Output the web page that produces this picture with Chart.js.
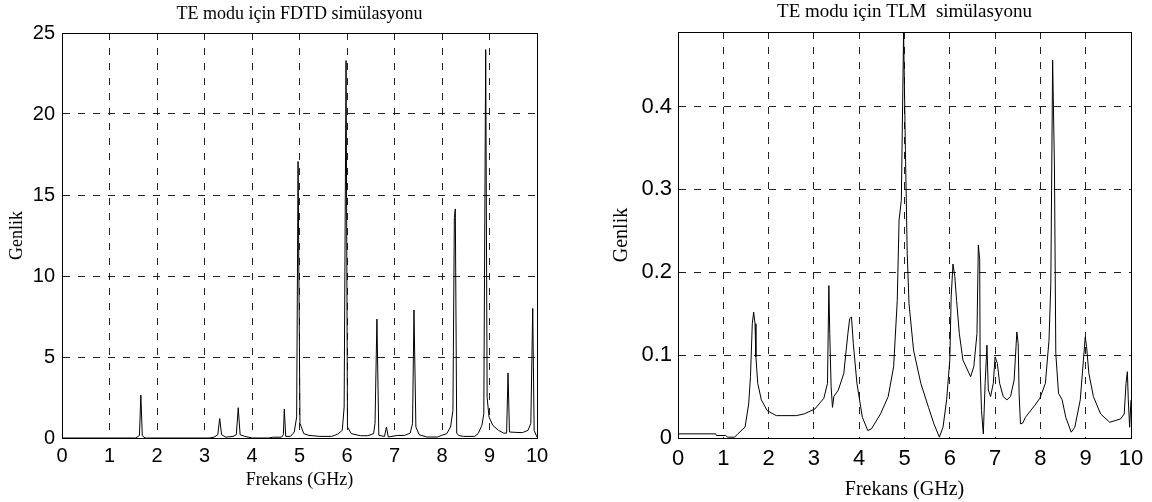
<!DOCTYPE html>
<html>
<head>
<meta charset="utf-8">
<script src="https://cdn.jsdelivr.net/npm/chart.js@4.4.1/dist/chart.umd.min.js"></script>
<style>
    html, body { margin: 0; padding: 0; background: #fff; overflow: hidden; }
    #sol { position: absolute; left: 0; top: 0; width: 576px; height: 502px; }
    #sag { position: absolute; left: 576px; top: 0; width: 576px; height: 502px; }
</style>
</head>
<body>
<div id="sol"><canvas id="grafikFDTD"></canvas></div>
<div id="sag"><canvas id="grafikTLM"></canvas></div>
<script>
// FDTD spektrumu (GHz, genlik)
const fdtdFrekans = [
    0, 1.55, 1.63, 1.66, 1.69, 1.75, 3.1, 3.2, 3.28, 3.32, 3.36, 3.45, 3.6, 3.67, 3.71, 3.75, 3.85, 4.0,
    4.35, 4.45, 4.62, 4.66, 4.68, 4.71, 4.81, 4.89, 4.94, 4.97, 5.01, 5.09, 5.2, 5.43, 5.67, 5.74,
    5.82, 5.9, 5.94, 5.98, 6.01, 6.09, 6.28, 6.44, 6.56, 6.59, 6.63, 6.67, 6.79, 6.83, 6.87, 7.06,
    7.21, 7.33, 7.38, 7.41, 7.45, 7.52, 7.68, 7.91, 7.99, 8.1, 8.18, 8.23, 8.26, 8.28, 8.31, 8.35,
    8.45, 8.69, 8.76, 8.84, 8.88, 8.92, 8.95, 8.99, 9.07, 9.19, 9.3, 9.36, 9.39, 9.42, 9.54, 9.69,
    9.81, 9.87, 9.91, 9.94, 10
];
const fdtdGenlik = [
    0, 0, 0.15, 2.65, 0.15, 0, 0, 0.05, 0.2, 1.2, 0.2, 0.05, 0.1, 0.2, 1.87, 0.2, 0.1, 0,
    0, 0.05, 0.05, 0.2, 1.79, 0.1, 0.1, 0.37, 1.3, 17.07, 0.9, 0.27, 0.16, 0.1, 0.1, 0.16,
    0.27, 0.47, 1.9, 23.3, 0.68, 0.27, 0.14, 0.14, 0.27, 0.9, 7.34, 0.16, 0.1, 0.68, 0.06, 0.16,
    0.16, 0.3, 0.9, 7.9, 0.68, 0.2, 0.06, 0.06, 0.16, 0.27, 0.68, 1.7, 13.6, 14.14, 0.3, 0.16,
    0.1, 0.1, 0.27, 0.78, 1.5, 23.98, 2.5, 1.3, 0.78, 0.47, 0.3, 0.3, 4.02, 0.37, 0.35, 0.33,
    0.47, 0.9, 8.0, 0.47, 0.05
];

// TLM spektrumu (GHz, genlik)
const tlmFrekans = [
    0, 0.83, 0.85, 1.05, 1.1, 1.25, 1.32, 1.48, 1.56, 1.6, 1.64, 1.67, 1.7, 1.72, 1.76, 1.84, 1.97,
    2.17, 2.61, 2.78, 3.02, 3.22, 3.3, 3.33, 3.35, 3.38, 3.41, 3.44, 3.54, 3.66, 3.75, 3.79, 3.83,
    3.87, 3.95, 4.07, 4.19, 4.27, 4.47, 4.64, 4.76, 4.84, 4.88, 4.93, 4.98, 5.02, 5.06, 5.1, 5.2,
    5.36, 5.53, 5.65, 5.77, 5.85, 5.93, 6.0, 6.03, 6.07, 6.11, 6.15, 6.21, 6.29, 6.46, 6.53, 6.6,
    6.63, 6.66, 6.67, 6.7, 6.74, 6.78, 6.82, 6.85, 6.9, 6.96, 7.0, 7.05, 7.1, 7.18, 7.26, 7.34,
    7.42, 7.48, 7.51, 7.53, 7.56, 7.61, 7.67, 7.87, 7.99, 8.11, 8.19, 8.23, 8.27, 8.31, 8.34, 8.4,
    8.48, 8.56, 8.68, 8.76, 8.88, 8.95, 8.99, 9.02, 9.07, 9.17, 9.33, 9.53, 9.65, 9.77, 9.85, 9.89,
    9.92, 9.94, 9.97, 10
];
const tlmGenlik = [
    0.005, 0.005, 0.003, 0.003, 0.001, 0.001, 0.005, 0.013, 0.041, 0.074, 0.138, 0.152, 0.138, 0.098, 0.066, 0.046, 0.033,
    0.027, 0.027, 0.029, 0.035, 0.048, 0.066, 0.184, 0.126, 0.062, 0.037, 0.05, 0.058, 0.078, 0.126, 0.144, 0.146,
    0.114, 0.066, 0.025, 0.009, 0.011, 0.029, 0.05, 0.086, 0.166, 0.263, 0.287, 0.49, 0.348, 0.223, 0.162, 0.106,
    0.066, 0.037, 0.017, 0.001, 0.013, 0.046, 0.094, 0.17, 0.21, 0.195, 0.166, 0.126, 0.094, 0.074, 0.086, 0.126,
    0.233, 0.215, 0.086, 0.033, 0.005, 0.066, 0.112, 0.058, 0.05, 0.066, 0.098, 0.09, 0.066, 0.05, 0.046, 0.05,
    0.07, 0.128, 0.114, 0.054, 0.017, 0.018, 0.025, 0.039, 0.048, 0.066, 0.118, 0.186, 0.456, 0.327, 0.102, 0.054,
    0.046, 0.025, 0.007, 0.013, 0.046, 0.094, 0.122, 0.11, 0.078, 0.05, 0.029, 0.019, 0.021, 0.023, 0.029, 0.066,
    0.08, 0.046, 0.013, 0.046
];

const frekansTicks = [0, 1, 2, 3, 4, 5, 6, 7, 8, 9, 10];
const fdtdTicks = [0, 5, 10, 15, 20, 25];
const tlmTicks = [0, 0.1, 0.2, 0.3, 0.4];

const SERIF = "'Liberation Serif', 'Times New Roman', serif";
const SANS = "'Liberation Sans', Arial, sans-serif";
const izgara = { color: '#222', lineWidth: 1, drawTicks: false };
const cerceve = { display: true, color: '#000', width: 1 };
// border.dash = izgara cizgilerinin kesik deseni (v4)
const kesikCerceve = { ...cerceve, dash: [7, 8] };

function noktalar(xs, ys) {
    return xs.map((x, i) => ({ x: x, y: ys[i] }));
}

// kutu: eksen genislikleri / yazi konumlari her grafik icin ayri
function grafikCiz(canvasId, xs, ys, yMax, yTicks, kutu) {
    return new Chart(document.getElementById(canvasId), {
        type: 'line',
        data: {
            datasets: [{
                data: noktalar(xs, ys),
                borderColor: '#000',
                borderWidth: 1,
                pointRadius: 0,
                tension: 0
            }]
        },
        options: {
            responsive: true,
            maintainAspectRatio: false,
            animation: false,
            layout: { padding: 0 },
            plugins: {
                legend: { display: false },
                tooltip: { enabled: false }
            },
            scales: {
                x: {
                    type: 'linear',
                    min: 0,
                    max: 10,
                    afterBuildTicks: s => { s.ticks = frekansTicks.map(v => ({ value: v })); },
                    ticks: { color: '#000', padding: kutu.xTickPad, font: { family: SANS, size: kutu.tickFont } },
                    grid: izgara,
                    border: kesikCerceve,
                    title: {
                        display: true, text: 'Frekans (GHz)', color: '#000',
                        font: { family: SERIF, size: kutu.labelFont },
                        padding: { top: 0, bottom: kutu.xTitlePad }
                    },
                    afterFit: s => { s.height = kutu.alt; }
                },
                ust: {
                    type: 'linear',
                    position: 'top',
                    min: 0,
                    max: 10,
                    ticks: { display: false },
                    grid: { display: false, drawTicks: false },
                    border: cerceve,
                    title: {
                        display: true, text: kutu.baslik, color: '#000',
                        font: { family: SERIF, size: kutu.titleFont },
                        padding: { top: kutu.titlePad, bottom: 0 }
                    },
                    afterFit: s => { s.height = kutu.ust; }
                },
                y: {
                    type: 'linear',
                    min: 0,
                    max: yMax,
                    afterBuildTicks: s => { s.ticks = yTicks.map(v => ({ value: v })); },
                    ticks: { color: '#000', padding: kutu.yTickPad, font: { family: SANS, size: kutu.tickFont } },
                    grid: izgara,
                    border: kesikCerceve,
                    title: {
                        display: true, text: 'Genlik', color: '#000',
                        font: { family: SERIF, size: kutu.labelFont },
                        padding: { top: kutu.yTitlePad, bottom: 0 }
                    },
                    afterFit: s => { s.width = kutu.sol; }
                },
                sagKenar: {
                    type: 'linear',
                    position: 'right',
                    min: 0,
                    max: yMax,
                    ticks: { display: false },
                    grid: { display: false, drawTicks: false },
                    border: cerceve,
                    afterFit: s => { s.width = kutu.sag; }
                }
            }
        }
    });
}

const chartFDTD = grafikCiz('grafikFDTD', fdtdFrekans, fdtdGenlik, 25, fdtdTicks, {
    baslik: 'TE modu için FDTD simülasyonu',
    sol: 62, sag: 39, ust: 33, alt: 64,
    tickFont: 20, labelFont: 18, titleFont: 18,
    xTickPad: 6, yTickPad: 7, xTitlePad: 11, yTitlePad: 6, titlePad: 3
});

const chartTLM = grafikCiz('grafikTLM', tlmFrekans, tlmGenlik, 0.49, tlmTicks, {
    baslik: 'TE modu için TLM  simülasyonu',
    sol: 102, sag: 21, ust: 32, alt: 64,
    tickFont: 22, labelFont: 20, titleFont: 19,
    xTickPad: 8, yTickPad: 6, xTitlePad: 0, yTitlePad: 34, titlePad: 1
});
</script>
</body>
</html>
